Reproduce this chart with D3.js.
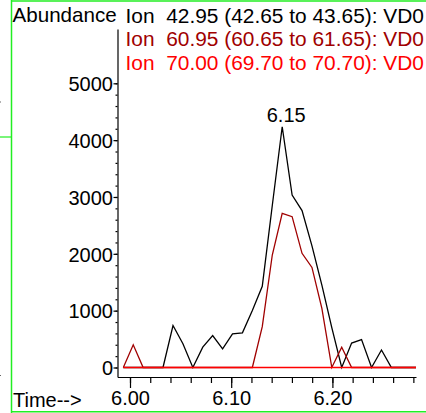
<!DOCTYPE html>
<html>
<head>
<meta charset="utf-8">
<script src="https://cdn.jsdelivr.net/npm/d3@7"></script>
<style>
  html, body { margin: 0; padding: 0; background: #fff; overflow: hidden; }
  svg { display: block; font-family: "Liberation Sans", Arial, sans-serif; }
</style>
</head>
<body>
<script>
// ---- data ----
const times = [5.9934, 6.0032, 6.0130, 6.0228, 6.0326, 6.0425, 6.0523, 6.0621, 6.0719, 6.0817,
               6.0915, 6.1013, 6.1111, 6.1209, 6.1307, 6.1406, 6.1504, 6.1602, 6.1700, 6.1798,
               6.1896, 6.1994, 6.2092, 6.2190, 6.2288, 6.2387, 6.2485, 6.2583, 6.2681, 6.2779, 6.2877];
const ion4295 = [0, 0, 0, 0, 0, 739, 417, 0, 358, 563,
                 329, 592, 610, 1003, 1430, 2850, 4236, 3035, 2760, 2140,
                 1450, 700, 0, 430, 490, 0, 308, 0, 0, 0, 0];
const ion6095 = [0, 399, 0, 0, 0, 0, 0, 0, 0, 0,
                 0, 0, 0, 0, 718, 1979, 2713, 2654, 2009, 1760,
                 1041, 0, 355, 0, 0, 0, 0, 0, 0, 0, 0];
const ion7000 = [0, 0, 0, 0, 0, 0, 0, 0, 0, 0,
                 0, 0, 0, 0, 0, 0, 0, 0, 0, 0,
                 0, 0, 0, 0, 0, 0, 0, 0, 0, 0, 0];
const legendLabels = ["Ion  42.95 (42.65 to 43.65): VD0",
                      "Ion  60.95 (60.65 to 61.65): VD0",
                      "Ion  70.00 (69.70 to 70.70): VD0"];
const seriesColors = ["#000000", "#a00000", "#ff0000"];
const yTicks = [0, 1000, 2000, 3000, 4000, 5000];
const xTicks = [6.00, 6.10, 6.20];
const xTickLabels = ["6.00", "6.10", "6.20"];
const peakLabel = "6.15";
const peakTime = 6.1504;
const peakValue = 4236;

// ---- layout ----
const W = 426, H = 413;
const svg = d3.select("body").append("svg").attr("width", W).attr("height", H);

// green frame
const green = "#22ee22";
svg.append("line").attr("x1", 11.5).attr("x2", 11.5).attr("y1", 0).attr("y2", 413).attr("stroke", green).attr("stroke-width", 1.5);
svg.append("line").attr("x1", 11.5).attr("x2", 426).attr("y1", 1).attr("y2", 1).attr("stroke", green).attr("stroke-width", 1.5);
svg.append("line").attr("x1", 11.5).attr("x2", 426).attr("y1", 411.8).attr("y2", 411.8).attr("stroke", green).attr("stroke-width", 1.5);
svg.append("line").attr("x1", 0).attr("x2", 11.5).attr("y1", 137).attr("y2", 137).attr("stroke", green).attr("stroke-width", 1.2);
svg.append("rect").attr("x", 0).attr("y", 101.5).attr("width", 1).attr("height", 1).attr("fill", "#666");
svg.append("rect").attr("x", 0).attr("y", 375).attr("width", 1).attr("height", 1).attr("fill", "#666");

// scales: 6.00 -> 130, 6.20 -> 332.4 ; 0 -> 367.5, 5000 -> 83.3
const xBase = d3.scaleLinear().domain([6.00, 6.20]).range([130, 332.4]);
const yBase = d3.scaleLinear().domain([0, 5000]).range([367.5, 83.3]);
const x = d3.scaleLinear().domain([xBase.invert(117.5), xBase.invert(416)]).range([117.5, 416]);
const y = d3.scaleLinear().domain([yBase.invert(377), yBase.invert(29)]).range([377, 29]);

// x axis
const xAxisG = svg.append("g").attr("transform", "translate(0,377)");
xAxisG.call(d3.axisBottom(x).tickValues(d3.range(6.00, 6.2801, 0.02)).tickSize(6).tickSizeOuter(0).tickFormat(""));
xAxisG.append("g").call(d3.axisBottom(x).tickValues(xTicks).tickSize(11).tickFormat((d, i) => xTickLabels[i]))
  .call(g => g.select(".domain").remove());
xAxisG.selectAll("path,line").attr("stroke", "#000").attr("stroke-width", 1.2);
xAxisG.selectAll("text").attr("font-size", 20).attr("fill", "#000")
  .attr("font-family", "'Liberation Sans', Arial, sans-serif").attr("y", 14).attr("dy", "0.71em");

// y axis
const yAxisG = svg.append("g").attr("transform", "translate(117.5,0)");
yAxisG.call(d3.axisLeft(y).tickValues(d3.range(0, 5001, 200)).tickSize(2).tickSizeOuter(0).tickFormat(""));
yAxisG.append("g").call(d3.axisLeft(y).tickValues(yTicks).tickSize(4).tickFormat(d3.format("d")))
  .call(g => g.select(".domain").remove());
yAxisG.selectAll("path,line").attr("stroke", "#000").attr("stroke-width", 1.2);
yAxisG.selectAll("text").attr("font-size", 20).attr("fill", "#000")
  .attr("font-family", "'Liberation Sans', Arial, sans-serif").attr("x", -4.5).attr("dy", "0.36em");

// clip
svg.append("clipPath").attr("id", "plotclip").append("rect")
  .attr("x", 118).attr("y", 0).attr("width", 416 - 118).attr("height", 377);

const line = d3.line().x((d, i) => x(times[i])).y(d => y(d));
const plot = svg.append("g").attr("clip-path", "url(#plotclip)");
[ion4295, ion6095, ion7000].forEach((s, k) => {
  plot.append("path").datum(s).attr("d", line).attr("fill", "none")
    .attr("stroke", seriesColors[k]).attr("stroke-width", 1.3).attr("stroke-linejoin", "miter");
});

// peak label
svg.append("text").attr("x", x(peakTime) + 4).attr("y", y(peakValue) - 5)
  .attr("text-anchor", "middle").attr("font-size", 20).attr("fill", "#000").text(peakLabel);

// headers
svg.append("text").attr("x", 12.5).attr("y", 22).attr("font-size", 20.6).attr("fill", "#000").text("Abundance");
legendLabels.forEach((t, i) => {
  svg.append("text").attr("x", 125.5).attr("y", 22.5 + i * 23.7).attr("font-size", 20.9)
    .attr("fill", seriesColors[i]).attr("xml:space", "preserve").style("white-space", "pre").text(t);
});
svg.append("text").attr("x", 13).attr("y", 406.5).attr("font-size", 20).attr("fill", "#000").text("Time-->");
</script>
</body>
</html>
